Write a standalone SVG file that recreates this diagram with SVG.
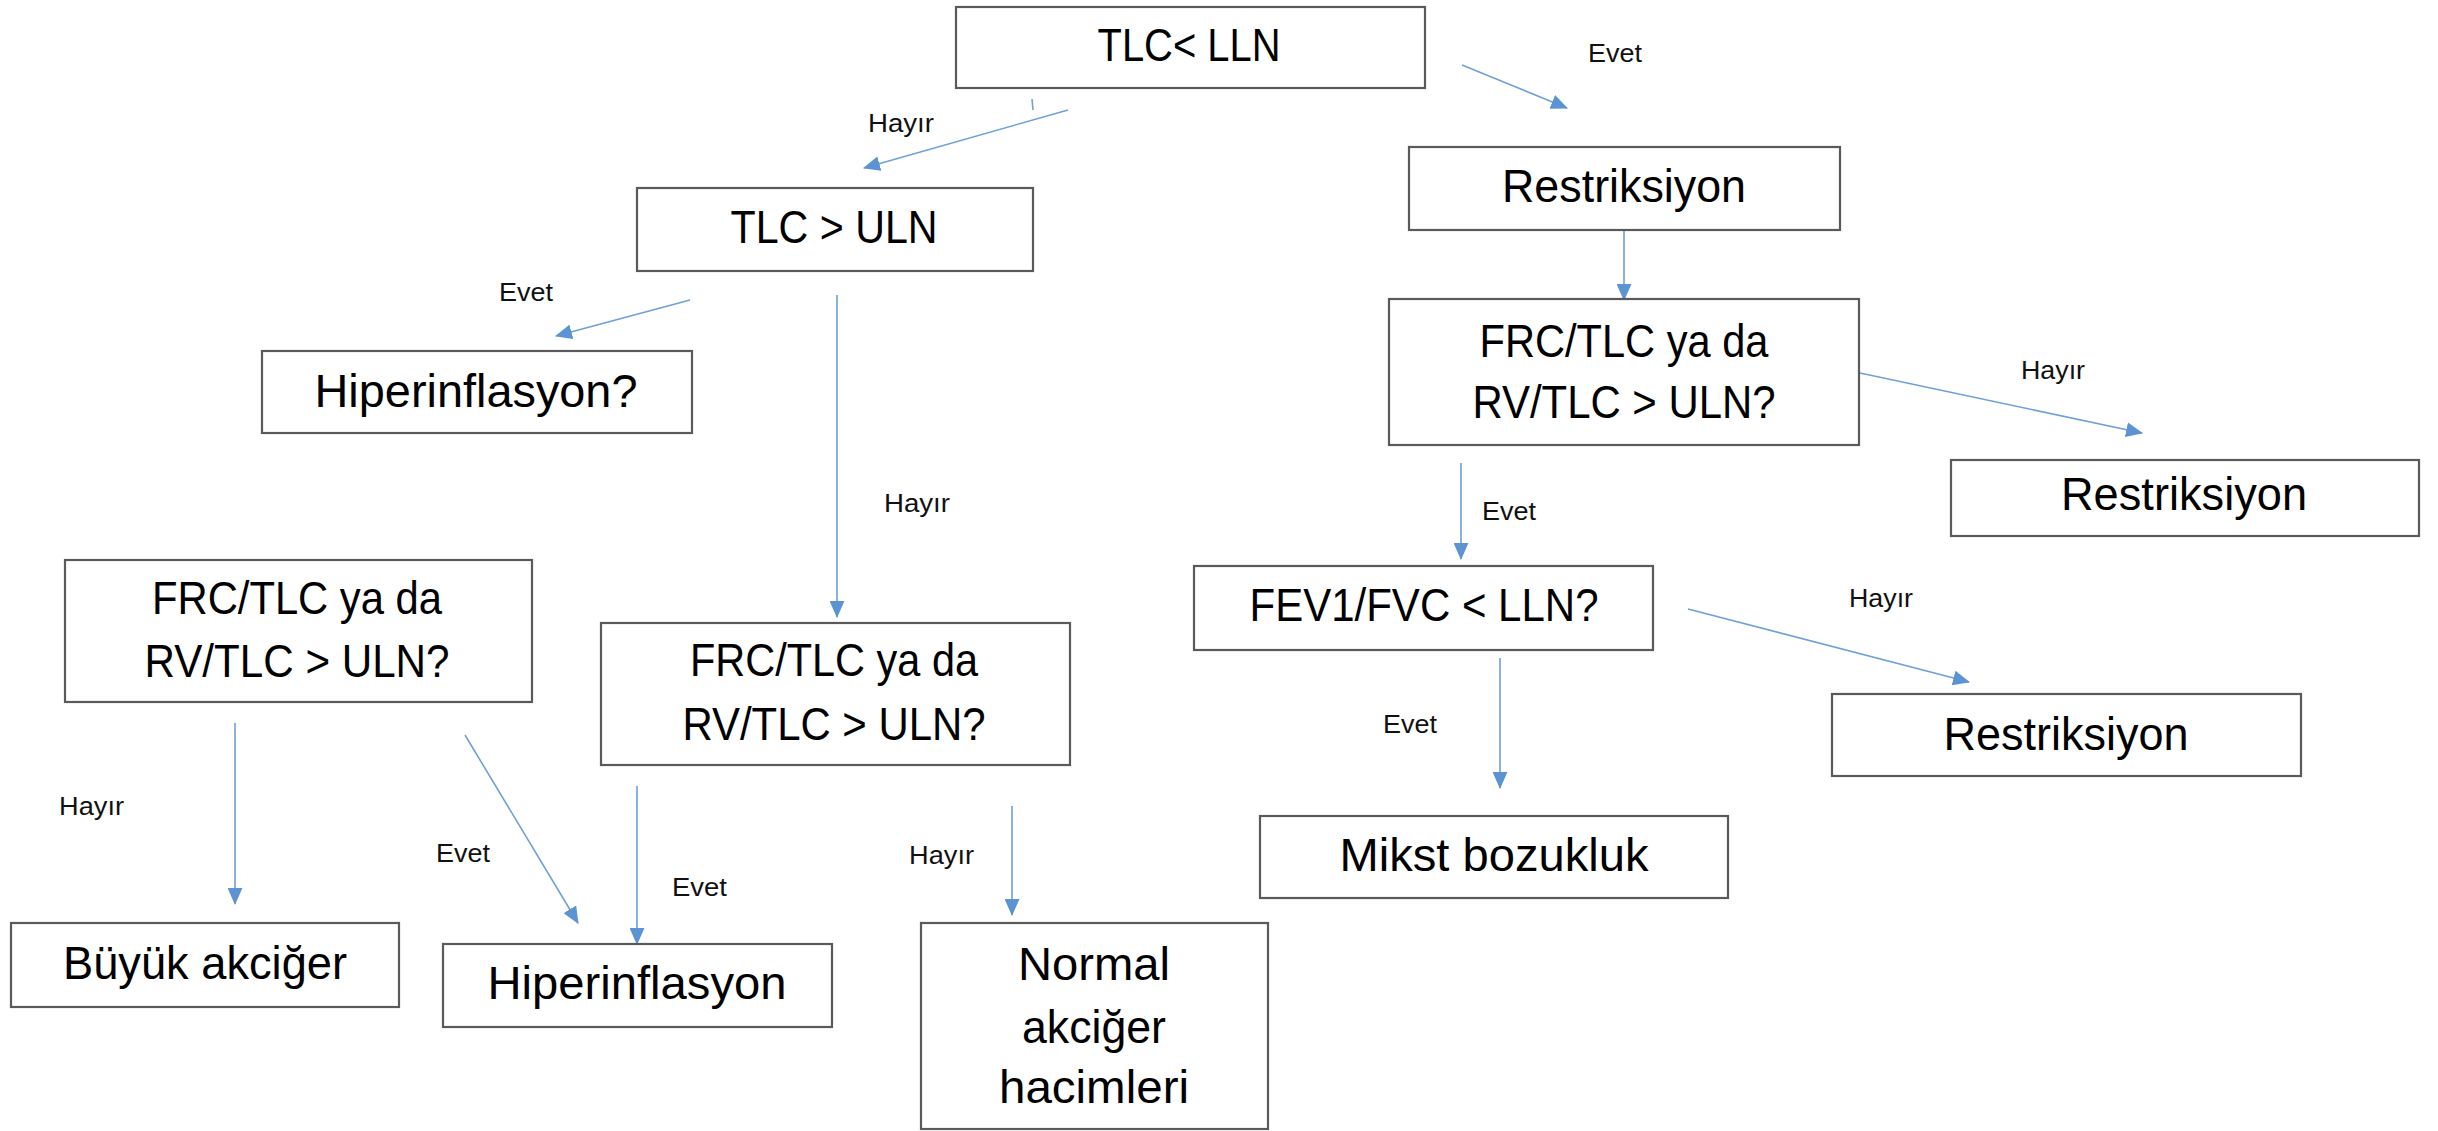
<svg xmlns="http://www.w3.org/2000/svg" width="2438" height="1131" viewBox="0 0 2438 1131">
<style>
.box{fill:#ffffff;stroke:#5a5a5a;stroke-width:2.2}
.t{font-family:"Liberation Sans",Arial,sans-serif;font-size:47px;fill:#000;text-anchor:middle}
.lb{font-family:"Liberation Sans",Arial,sans-serif;font-size:25px;fill:#111}
.c{stroke:#6fa0d8;stroke-width:1.6;fill:none}
</style>
<defs>
<marker id="ah" viewBox="0 0 16 14" refX="15" refY="7" markerWidth="17" markerHeight="15" markerUnits="userSpaceOnUse" orient="auto">
<path d="M0,0 L16,7 L0,14 z" fill="#5b93d3"/>
</marker>
</defs>
<rect width="2438" height="1131" fill="#ffffff"/>
<g id="connectors">
<line class="c" x1="1068" y1="110" x2="864" y2="168" marker-end="url(#ah)"/>
<line class="c" x1="1032" y1="99" x2="1033" y2="110"/>
<line class="c" x1="1462" y1="65" x2="1567" y2="108" marker-end="url(#ah)"/>
<line class="c" x1="1624" y1="230" x2="1624" y2="300" marker-end="url(#ah)"/>
<line class="c" x1="690" y1="300" x2="556" y2="336" marker-end="url(#ah)"/>
<line class="c" x1="837" y1="295" x2="837" y2="617" marker-end="url(#ah)"/>
<line class="c" x1="1860" y1="373" x2="2142" y2="433" marker-end="url(#ah)"/>
<line class="c" x1="1461" y1="463" x2="1461" y2="559" marker-end="url(#ah)"/>
<line class="c" x1="1688" y1="609" x2="1969" y2="682" marker-end="url(#ah)"/>
<line class="c" x1="1500" y1="658" x2="1500" y2="788" marker-end="url(#ah)"/>
<line class="c" x1="235" y1="723" x2="235" y2="904" marker-end="url(#ah)"/>
<line class="c" x1="465" y1="735" x2="578" y2="923" marker-end="url(#ah)"/>
<line class="c" x1="637" y1="786" x2="637" y2="944" marker-end="url(#ah)"/>
<line class="c" x1="1012" y1="806" x2="1012" y2="915" marker-end="url(#ah)"/>
</g>
<g id="labels">
<text class="lb" x="868" y="132" textLength="66" lengthAdjust="spacingAndGlyphs">Hayır</text>
<text class="lb" x="1588" y="62" textLength="54" lengthAdjust="spacingAndGlyphs">Evet</text>
<text class="lb" x="499" y="301" textLength="54" lengthAdjust="spacingAndGlyphs">Evet</text>
<text class="lb" x="884" y="512" textLength="66" lengthAdjust="spacingAndGlyphs">Hayır</text>
<text class="lb" x="2021" y="379" textLength="64" lengthAdjust="spacingAndGlyphs">Hayır</text>
<text class="lb" x="1482" y="520" textLength="54" lengthAdjust="spacingAndGlyphs">Evet</text>
<text class="lb" x="1849" y="607" textLength="64" lengthAdjust="spacingAndGlyphs">Hayır</text>
<text class="lb" x="1383" y="733" textLength="54" lengthAdjust="spacingAndGlyphs">Evet</text>
<text class="lb" x="59" y="815" textLength="65" lengthAdjust="spacingAndGlyphs">Hayır</text>
<text class="lb" x="436" y="862" textLength="54" lengthAdjust="spacingAndGlyphs">Evet</text>
<text class="lb" x="672" y="896" textLength="55" lengthAdjust="spacingAndGlyphs">Evet</text>
<text class="lb" x="909" y="864" textLength="65" lengthAdjust="spacingAndGlyphs">Hayır</text>
</g>
<g id="n-tlc-lln">
<rect class="box" x="956" y="7" width="469" height="81"/>
<text class="t" x="1189" y="61" textLength="183" lengthAdjust="spacingAndGlyphs">TLC&lt; LLN</text>
</g>
<g id="n-tlc-uln">
<rect class="box" x="637" y="188" width="396" height="83"/>
<text class="t" x="834" y="243" textLength="207" lengthAdjust="spacingAndGlyphs">TLC &gt; ULN</text>
</g>
<g id="n-restriksiyon-1">
<rect class="box" x="1409" y="147" width="431" height="83"/>
<text class="t" x="1624" y="202" textLength="244" lengthAdjust="spacingAndGlyphs">Restriksiyon</text>
</g>
<g id="n-hiperinflasyon-q">
<rect class="box" x="262" y="351" width="430" height="82"/>
<text class="t" x="476" y="407" textLength="323" lengthAdjust="spacingAndGlyphs">Hiperinflasyon?</text>
</g>
<g id="n-frc-right">
<rect class="box" x="1389" y="299" width="470" height="146"/>
<text class="t" x="1624" y="357" textLength="289" lengthAdjust="spacingAndGlyphs">FRC/TLC ya da</text>
<text class="t" x="1624" y="418" textLength="303" lengthAdjust="spacingAndGlyphs">RV/TLC &gt; ULN?</text>
</g>
<g id="n-restriksiyon-2">
<rect class="box" x="1951" y="460" width="468" height="76"/>
<text class="t" x="2184" y="510" textLength="246" lengthAdjust="spacingAndGlyphs">Restriksiyon</text>
</g>
<g id="n-frc-left">
<rect class="box" x="65" y="560" width="467" height="142"/>
<text class="t" x="297" y="614" textLength="290" lengthAdjust="spacingAndGlyphs">FRC/TLC ya da</text>
<text class="t" x="297" y="677" textLength="305" lengthAdjust="spacingAndGlyphs">RV/TLC &gt; ULN?</text>
</g>
<g id="n-frc-middle">
<rect class="box" x="601" y="623" width="469" height="142"/>
<text class="t" x="834" y="676" textLength="288" lengthAdjust="spacingAndGlyphs">FRC/TLC ya da</text>
<text class="t" x="834" y="740" textLength="303" lengthAdjust="spacingAndGlyphs">RV/TLC &gt; ULN?</text>
</g>
<g id="n-fev">
<rect class="box" x="1194" y="566" width="459" height="84"/>
<text class="t" x="1424" y="621" textLength="349" lengthAdjust="spacingAndGlyphs">FEV1/FVC &lt; LLN?</text>
</g>
<g id="n-restriksiyon-3">
<rect class="box" x="1832" y="694" width="469" height="82"/>
<text class="t" x="2066" y="750" textLength="245" lengthAdjust="spacingAndGlyphs">Restriksiyon</text>
</g>
<g id="n-mikst">
<rect class="box" x="1260" y="816" width="468" height="82"/>
<text class="t" x="1494" y="871" textLength="309" lengthAdjust="spacingAndGlyphs">Mikst bozukluk</text>
</g>
<g id="n-buyuk">
<rect class="box" x="11" y="923" width="388" height="84"/>
<text class="t" x="205" y="979" textLength="284" lengthAdjust="spacingAndGlyphs">Büyük akciğer</text>
</g>
<g id="n-hiperinflasyon">
<rect class="box" x="443" y="944" width="389" height="83"/>
<text class="t" x="637" y="999" textLength="299" lengthAdjust="spacingAndGlyphs">Hiperinflasyon</text>
</g>
<g id="n-normal">
<rect class="box" x="921" y="923" width="347" height="206"/>
<text class="t" x="1094" y="980" textLength="152" lengthAdjust="spacingAndGlyphs">Normal</text>
<text class="t" x="1094" y="1043" textLength="144" lengthAdjust="spacingAndGlyphs">akciğer</text>
<text class="t" x="1094" y="1103" textLength="190" lengthAdjust="spacingAndGlyphs">hacimleri</text>
</g>
</svg>
